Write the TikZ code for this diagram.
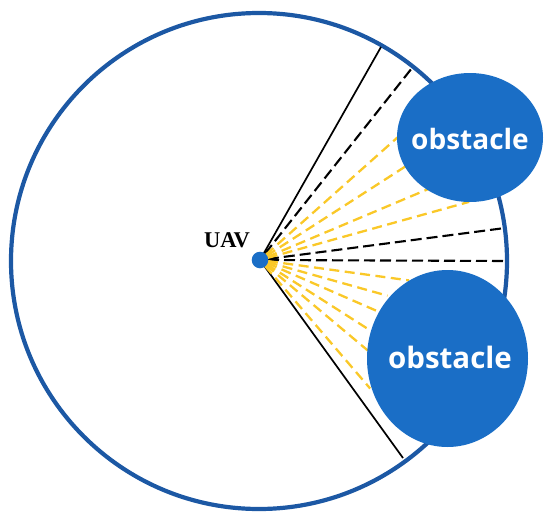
\documentclass[tikz,border=0pt]{standalone}
\usepackage{fontspec}
\newfontfamily\obsfont{Open Sans}
\newfontfamily\uavfont{Liberation Serif}
\usetikzlibrary{calc}
\definecolor{ringblue}{RGB}{28,88,164}
\definecolor{obsblue}{RGB}{26,110,198}
\definecolor{rayyellow}{RGB}{250,200,40}
\begin{document}
\begin{tikzpicture}[x=1pt,y=-1pt,
  ring/.style={draw=ringblue,line width=4.2pt},
  obst/.style={fill=obsblue,draw=none},
  solidray/.style={black,line width=1.7pt},
  blackdash/.style={black,line width=2.1pt,dash pattern=on 11pt off 5pt,dash phase=8pt},
  yellowdash/.style={rayyellow,line width=2.3pt,dash pattern=on 10pt off 5.5pt,dash phase=7.5pt},
  obstext/.style={text=white,inner sep=0pt},
  uavdot/.style={circle,fill=obsblue,minimum size=16.6pt,inner sep=0pt},
]
\useasboundingbox (0,0) rectangle (550,520);
\draw[ring] (259,261) circle[radius=248];
\coordinate (c) at (260,260);
% ray end points
\coordinate (s1) at (381,47);
\coordinate (s2) at (403,458);
\coordinate (d1) at (412,68);
\coordinate (d2) at (505,228);
\coordinate (d3) at (506,261);
\coordinate (u1) at (398,137);
\coordinate (u2) at (403,168);
\coordinate (u3) at (426,190);
\coordinate (u4) at (465,203);
\coordinate (l1) at (406,280);
\coordinate (l2) at (385,295);
\coordinate (l3) at (377,311);
\coordinate (l4) at (368,329);
\coordinate (l5) at (366,349);
\coordinate (l6) at (368,386);
\draw[solidray] (c) -- (s1);
\draw[solidray] (c) -- (s2);
\foreach \p in {d1,d2,d3} \draw[blackdash] (c) -- (\p);
\foreach \p in {u1,u2,u3,u4,l1,l2,l3,l4,l5,l6} \draw[yellowdash] (c) -- ($(c)!1.02!(\p)$);
% obstacles
\fill[obst] (470,137.5) ellipse[x radius=73,y radius=64.5];
\fill[obst] (447.5,358.5) ellipse[x radius=80.5,y radius=88.5];
\node[obstext,font=\obsfont\bfseries\fontsize{28}{30}\selectfont] (obs1) at (470,139) {obstacle};
\node[obstext,font=\obsfont\bfseries\fontsize{29.5}{31}\selectfont] (obs2) at (450,357.5) {obstacle};
% UAV
\node[uavdot] (uav) at (c) {};
\node[inner sep=0pt,font=\uavfont\bfseries\fontsize{22.5}{24}\selectfont] (uavlabel) at (227,240.5) {UAV};
\end{tikzpicture}
\end{document}
